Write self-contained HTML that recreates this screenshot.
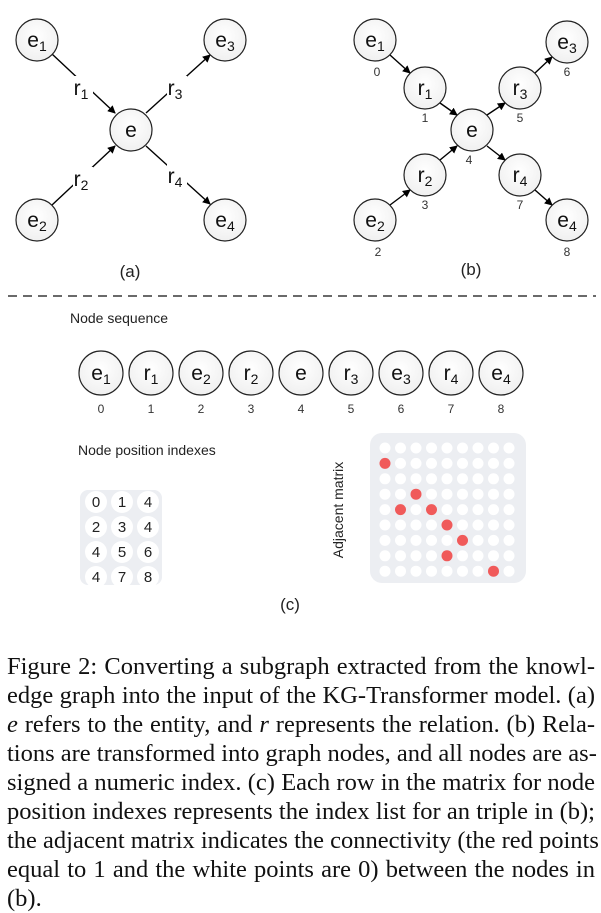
<!DOCTYPE html>
<html><head><meta charset="utf-8"><style>
body{margin:0;background:#fff;width:601px;height:906px;overflow:hidden;position:relative}
svg{position:absolute;left:0;top:0}
.cap{position:absolute;left:7px;width:588px;font-family:"Liberation Serif",serif;font-size:24.5px;color:#111;line-height:29px}
.cap div{text-align:justify;text-align-last:justify;white-space:nowrap;height:29px}
.cap div.l{text-align-last:left}
</style></head><body>
<svg width="601" height="906" viewBox="0 0 601 906" font-family="Liberation Sans, sans-serif">
<defs>
<marker id="a" markerWidth="8" markerHeight="8" refX="7" refY="4" orient="auto" markerUnits="userSpaceOnUse"><path d="M0,0 L8,4 L0,8 z" fill="#000"/></marker>
<radialGradient id="g" cx="50%" cy="40%" r="60%"><stop offset="0" stop-color="#fff"/><stop offset="1" stop-color="#f0f0f0"/></radialGradient>
</defs>
<g stroke="#000" stroke-width="1.4">
<line x1="52" y1="54" x2="115" y2="113" marker-end="url(#a)"/>
<line x1="52" y1="205" x2="115" y2="146" marker-end="url(#a)"/>
<line x1="146" y1="113" x2="210" y2="55" marker-end="url(#a)"/>
<line x1="146" y1="146" x2="210" y2="204" marker-end="url(#a)"/>
<line x1="390" y1="55" x2="410" y2="73" marker-end="url(#a)"/>
<line x1="440" y1="103" x2="457" y2="115" marker-end="url(#a)"/>
<line x1="390" y1="205" x2="410" y2="190" marker-end="url(#a)"/>
<line x1="440" y1="160" x2="457" y2="146" marker-end="url(#a)"/>
<line x1="487" y1="115" x2="505" y2="103" marker-end="url(#a)"/>
<line x1="535" y1="73" x2="552" y2="57" marker-end="url(#a)"/>
<line x1="487" y1="146" x2="505" y2="160" marker-end="url(#a)"/>
<line x1="535" y1="190" x2="552" y2="205" marker-end="url(#a)"/>
</g>
<g fill="#fff">
<rect x="73" y="76" width="20" height="24"/><rect x="167" y="76" width="20" height="24"/>
<rect x="73" y="167" width="20" height="24"/><rect x="167" y="164" width="20" height="24"/>
</g>
<g font-size="21" fill="#111" text-anchor="middle">
<text x="81" y="95">r<tspan font-size="14" dy="4">1</tspan></text>
<text x="175" y="95">r<tspan font-size="14" dy="4">3</tspan></text>
<text x="81" y="186">r<tspan font-size="14" dy="4">2</tspan></text>
<text x="175" y="183">r<tspan font-size="14" dy="4">4</tspan></text>
</g>
<g stroke="#222" stroke-width="1.2" fill="url(#g)">
<circle cx="37" cy="40" r="21"/><circle cx="225" cy="40" r="21"/><circle cx="131" cy="130" r="21"/>
<circle cx="37" cy="220" r="21"/><circle cx="225" cy="220" r="21"/>
<circle cx="375" cy="40" r="21"/><circle cx="425" cy="88" r="21"/><circle cx="472" cy="130" r="21"/>
<circle cx="520" cy="88" r="21"/><circle cx="567" cy="42" r="21"/><circle cx="425" cy="175" r="21"/>
<circle cx="375" cy="220" r="21"/><circle cx="520" cy="175" r="21"/><circle cx="567" cy="220" r="21"/>
</g>
<g font-size="21" fill="#111" text-anchor="middle">
<text x="37" y="47">e<tspan font-size="14" dy="4">1</tspan></text>
<text x="225" y="47">e<tspan font-size="14" dy="4">3</tspan></text>
<text x="131" y="137">e</text>
<text x="37" y="227">e<tspan font-size="14" dy="4">2</tspan></text>
<text x="225" y="227">e<tspan font-size="14" dy="4">4</tspan></text>
<text x="375" y="47">e<tspan font-size="14" dy="4">1</tspan></text>
<text x="425" y="95">r<tspan font-size="14" dy="4">1</tspan></text>
<text x="472" y="137">e</text>
<text x="520" y="95">r<tspan font-size="14" dy="4">3</tspan></text>
<text x="567" y="49">e<tspan font-size="14" dy="4">3</tspan></text>
<text x="425" y="182">r<tspan font-size="14" dy="4">2</tspan></text>
<text x="375" y="227">e<tspan font-size="14" dy="4">2</tspan></text>
<text x="520" y="182">r<tspan font-size="14" dy="4">4</tspan></text>
<text x="567" y="227">e<tspan font-size="14" dy="4">4</tspan></text>
</g>
<g font-size="12" fill="#333" text-anchor="middle">
<text x="377" y="76">0</text><text x="425" y="122">1</text><text x="469" y="164">4</text>
<text x="520" y="122">5</text><text x="567" y="76">6</text><text x="425" y="209">3</text>
<text x="378" y="256">2</text><text x="520" y="209">7</text><text x="567" y="256">8</text>
</g>
<g font-size="17" fill="#222" text-anchor="middle">
<text x="130" y="277">(a)</text><text x="471" y="275">(b)</text><text x="290" y="610">(c)</text>
</g>
<line x1="8" y1="296" x2="596" y2="296" stroke="#111" stroke-width="1.3" stroke-dasharray="9,6"/>
<text x="70" y="323" font-size="14" fill="#222">Node sequence</text>
<g stroke="#222" stroke-width="1.2" fill="url(#g)">
<circle cx="101" cy="373" r="22"/><circle cx="151" cy="373" r="22"/><circle cx="201" cy="373" r="22"/>
<circle cx="251" cy="373" r="22"/><circle cx="301" cy="373" r="22"/><circle cx="351" cy="373" r="22"/>
<circle cx="401" cy="373" r="22"/><circle cx="451" cy="373" r="22"/><circle cx="501" cy="373" r="22"/>
</g>
<g font-size="21" fill="#111" text-anchor="middle">
<text x="101" y="380">e<tspan font-size="14" dy="4">1</tspan></text>
<text x="151" y="380">r<tspan font-size="14" dy="4">1</tspan></text>
<text x="201" y="380">e<tspan font-size="14" dy="4">2</tspan></text>
<text x="251" y="380">r<tspan font-size="14" dy="4">2</tspan></text>
<text x="301" y="380">e</text>
<text x="351" y="380">r<tspan font-size="14" dy="4">3</tspan></text>
<text x="401" y="380">e<tspan font-size="14" dy="4">3</tspan></text>
<text x="451" y="380">r<tspan font-size="14" dy="4">4</tspan></text>
<text x="501" y="380">e<tspan font-size="14" dy="4">4</tspan></text>
</g>
<g font-size="12" fill="#333" text-anchor="middle">
<text x="101" y="413">0</text><text x="151" y="413">1</text><text x="201" y="413">2</text>
<text x="251" y="413">3</text><text x="301" y="413">4</text><text x="351" y="413">5</text>
<text x="401" y="413">6</text><text x="451" y="413">7</text><text x="501" y="413">8</text>
</g>
<text x="78" y="455" font-size="14" fill="#222">Node position indexes</text>
<rect x="80" y="490" width="82" height="95" rx="8" fill="#eceef2"/>
<g fill="#fff">
<circle cx="96" cy="502" r="11"/><circle cx="122" cy="502" r="11"/><circle cx="148" cy="502" r="11"/>
<circle cx="96" cy="527" r="11"/><circle cx="122" cy="527" r="11"/><circle cx="148" cy="527" r="11"/>
<circle cx="96" cy="552" r="11"/><circle cx="122" cy="552" r="11"/><circle cx="148" cy="552" r="11"/>
<circle cx="96" cy="577" r="11"/><circle cx="122" cy="577" r="11"/><circle cx="148" cy="577" r="11"/>
</g>
<g font-size="15" fill="#222" text-anchor="middle">
<text x="96" y="507">0</text><text x="122" y="507">1</text><text x="148" y="507">4</text>
<text x="96" y="532">2</text><text x="122" y="532">3</text><text x="148" y="532">4</text>
<text x="96" y="557">4</text><text x="122" y="557">5</text><text x="148" y="557">6</text>
<text x="96" y="582">4</text><text x="122" y="582">7</text><text x="148" y="582">8</text>
</g>
<text transform="translate(343,510) rotate(-90)" font-size="14" fill="#222" text-anchor="middle">Adjacent matrix</text>
<rect x="370" y="433" width="156" height="150" rx="12" fill="#eceef2"/>
<g id="dots" fill="#fff"></g>
</svg>
<div class="cap" style="top:652px">
<div>Figure 2: Converting a subgraph extracted from the knowl-</div>
<div>edge graph into the input of the KG-Transformer model. (a)</div>
<div><i>e</i> refers to the entity, and <i>r</i> represents the relation. (b) Rela-</div>
<div>tions are transformed into graph nodes, and all nodes are as-</div>
<div>signed a numeric index. (c) Each row in the matrix for node</div>
<div>position indexes represents the index list for an triple in (b);</div>
<div>the adjacent matrix indicates the connectivity (the red points</div>
<div>equal to 1 and the white points are 0) between the nodes in</div>
<div class="l">(b).</div>
</div>
<script>
var red={"1,0":1,"3,2":1,"4,1":1,"4,3":1,"5,4":1,"6,5":1,"7,4":1,"8,7":1};
var g=document.getElementById("dots"),s="";
for(var r=0;r<9;r++)for(var c=0;c<9;c++){
s+='<circle cx="'+(385+c*15.5)+'" cy="'+(448+r*15.4)+'" r="5.5" fill="'+(red[r+","+c]?"#f05a5a":"#fff")+'"/>';}
g.innerHTML=s;
</script>
</body></html>
